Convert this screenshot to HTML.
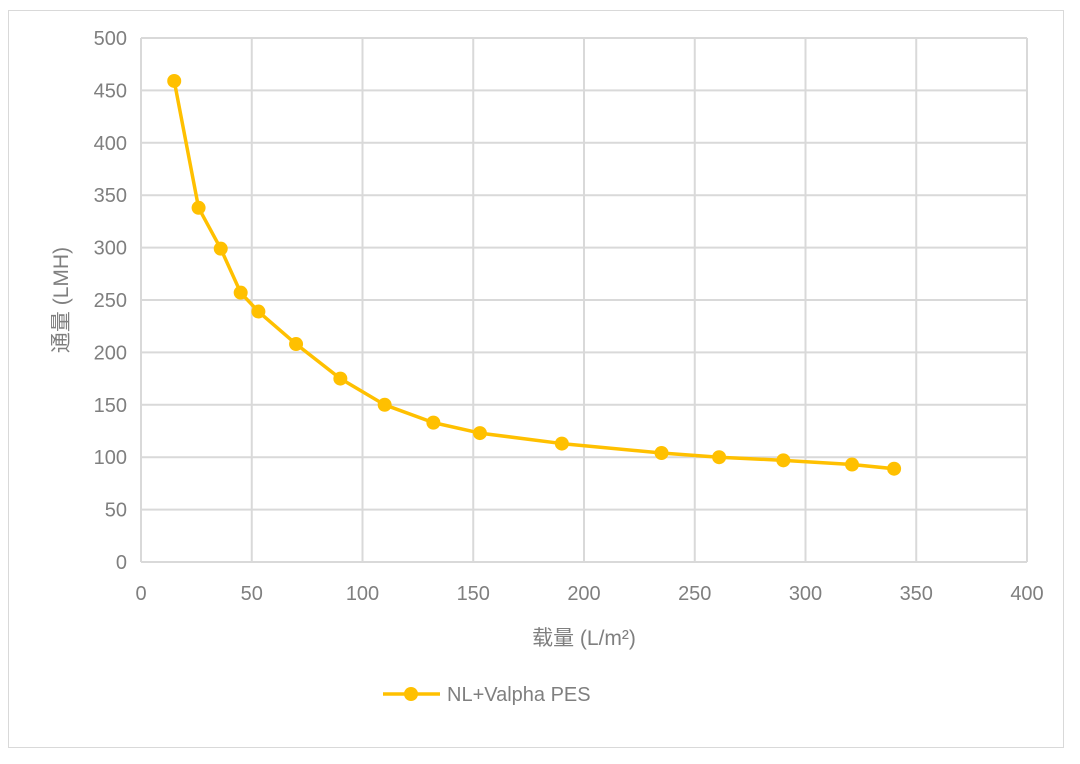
<!DOCTYPE html>
<html><head><meta charset="utf-8"><style>
body{margin:0;background:#fff;}
svg{display:block;font-family:"Liberation Sans","Noto Sans CJK SC",sans-serif;}
</style></head><body>
<svg id="chart" width="1080" height="764">
<rect x="8.5" y="10.5" width="1055" height="737" fill="#fff" stroke="#d9d9d9"/>
<g id="grid"></g><g id="axes"></g><g id="series"></g>
<text x="584" y="645" text-anchor="middle" font-size="21" fill="#7f7f7f">载量 (L/m²)</text>
<text transform="translate(68,300) rotate(-90)" text-anchor="middle" font-size="21" fill="#7f7f7f">通量 (LMH)</text>
<g>
<line x1="383" y1="694" x2="440" y2="694" stroke="#FFC000" stroke-width="3.5"/>
<circle cx="411" cy="694" r="7" fill="#FFC000"/>
<text x="447" y="701" font-size="20" fill="#7f7f7f">NL+Valpha PES</text>
</g>
</svg>
<script>
const xVals=[15,26,36,45,53,70,90,110,132,153,190,235,261,290,321,340];
const yVals=[459,338,299,257,239,208,175,150,133,123,113,104,100,97,93,89];
const xTicks=[0,50,100,150,200,250,300,350,400];
const yTicks=[0,50,100,150,200,250,300,350,400,450,500];
const X0=141,X1=1027,Y0=562,Y1=38;
const sx=v=>X0+(v-0)/400*(X1-X0);
const sy=v=>Y0-(v-0)/500*(Y0-Y1);
const NS="http://www.w3.org/2000/svg";
function mk(t,a,p){const e=document.createElementNS(NS,t);for(const k in a)e.setAttribute(k,a[k]);p.appendChild(e);return e;}
const grid=document.getElementById('grid'),axes=document.getElementById('axes'),ser=document.getElementById('series');
xTicks.forEach(t=>{
 const l=mk('line',{x1:sx(t),x2:sx(t),y1:Y1,y2:Y0,stroke:'#d9d9d9','stroke-width':2},grid);
 
 
 const tx=mk('text',{x:sx(t),y:Y0+38,'text-anchor':'middle','font-size':20,fill:'#7f7f7f'},axes);
 tx.textContent=t;
 
 
});
yTicks.forEach(t=>{
 const l=mk('line',{x1:X0,x2:X1,y1:sy(t),y2:sy(t),stroke:'#d9d9d9','stroke-width':2},grid);
 
 
 const tx=mk('text',{x:X0-14,y:sy(t)+7,'text-anchor':'end','font-size':20,fill:'#7f7f7f'},axes);
 tx.textContent=t;
 
 
});
const pts=xVals.map((x,i)=>sx(x)+','+sy(yVals[i])).join(' ');
const pl=mk('polyline',{points:pts,fill:'none',stroke:'#FFC000','stroke-width':3.5,'stroke-linejoin':'round'},ser);


xVals.forEach((x,i)=>{
 const c=mk('circle',{cx:sx(x),cy:sy(yVals[i]),r:7,fill:'#FFC000'},ser);
 
 
});
</script>
</body></html>
